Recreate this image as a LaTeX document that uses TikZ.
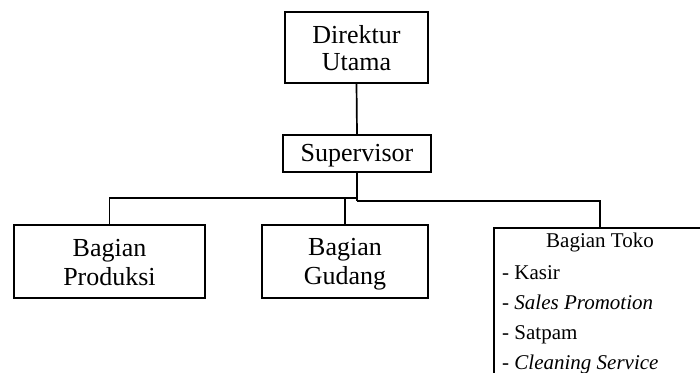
\documentclass[tikz,border=0pt]{standalone}
\usepackage{fontspec}
\setmainfont{Liberation Serif}
\newcommand\boxstrut{\rule[-3pt]{0pt}{25pt}}
\begin{document}
\begin{tikzpicture}[x=1pt,y=-1pt,
  box/.style={draw=black,line width=1.7pt,fill=white,rectangle,inner sep=0pt,align=center,
    font=\fontsize{26}{27}\selectfont},
  conn/.style={draw=black,line width=1.7pt},
  item/.style={inner sep=0pt,anchor=base west,font=\fontsize{21}{22}\selectfont}]
\useasboundingbox (0,0) rectangle (700,372);
\fill[white] (0,0) rectangle (700,372);
\node[box,minimum width=143pt,minimum height=71pt] (dir) at (356.5,47.5) {Direktur\boxstrut\\Utama\boxstrut};
\node[box,minimum width=148pt,minimum height=37pt] (sup) at (357,153.5) {Supervisor\boxstrut};
\node[box,minimum width=191pt,minimum height=73pt] (prod) at (109.5,261.5) {Bagian\boxstrut\\Produksi\boxstrut};
\node[box,minimum width=166pt,minimum height=73pt] (gud) at (345,261.5) {Bagian\boxstrut\\Gudang\boxstrut};
\node[box,minimum width=212pt,minimum height=170pt] (toko) at (600,313) {};
\node[inner sep=0pt,anchor=base,font=\fontsize{21}{22}\selectfont] (tokot) at (600,247) {Bagian Toko};
\node[item] (k1) at (502,279) {- Kasir};
\node[item] (k2) at (502,309) {- \textit{Sales Promotion}};
\node[item] (k3) at (502,339) {- Satpam};
\node[item] (k4) at (502,369) {- \textit{Cleaning Service}};
\coordinate (jl) at (357,198);
\coordinate (jr) at (357,201);
\draw[conn] (dir.south) -- (sup.north);
\draw[conn] (sup.south) -- (jr);
\draw[conn] (jl) -| (prod.north);
\draw[conn] (jr) -| (toko.north);
\draw[conn] (gud.north) -- (gud.north |- jl);
\end{tikzpicture}
\end{document}
